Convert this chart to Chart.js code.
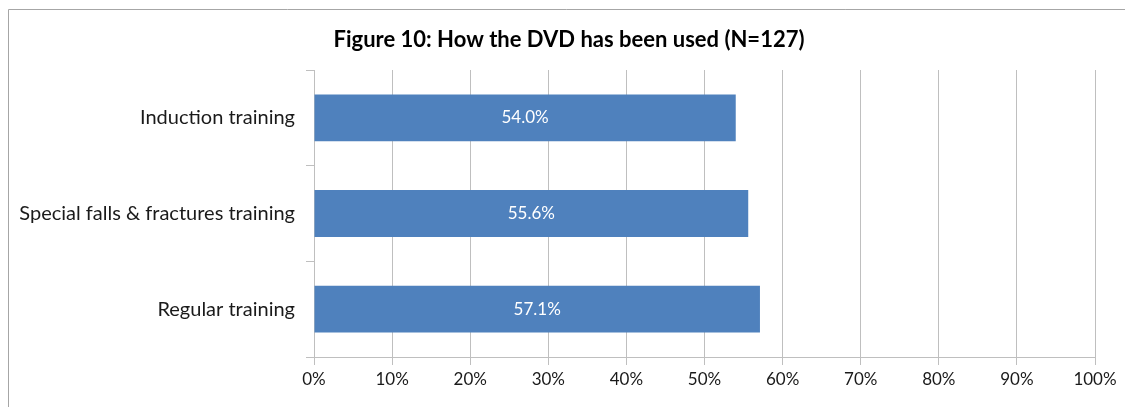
<!DOCTYPE html>
<html>
<head>
<meta charset="utf-8">
<script src="https://cdn.jsdelivr.net/npm/chart.js@4"></script>
<style>
  body { margin: 0; background: #fff; }
  #wrap { width: 1125px; height: 407px; }
</style>
</head>
<body>
<div id="wrap"><canvas id="chart" width="1125" height="407"></canvas></div>
<script>
const categories = ['Induction training', 'Special falls & fractures training', 'Regular training'];
const usedPct = [54.0, 55.6, 57.1];
const xTicks = [0, 10, 20, 30, 40, 50, 60, 70, 80, 90, 100];
const titleText = 'Figure 10: How the DVD has been used (N=127)';

// frame around the whole chart (left and top edges visible) + title
const framePlugin = {
  id: 'frame',
  beforeDraw(chart) {
    const ctx = chart.ctx;
    ctx.save();
    ctx.strokeStyle = '#a6a6a6';
    ctx.lineWidth = 1;
    ctx.beginPath();
    ctx.moveTo(8.5, 407);
    ctx.lineTo(8.5, 9.5);
    ctx.lineTo(1125, 9.5);
    ctx.stroke();
    ctx.fillStyle = '#000';
    ctx.font = 'bold 22px Lato, "Open Sans", sans-serif';
    ctx.textAlign = 'center';
    ctx.textBaseline = 'middle';
    ctx.fillText(titleText, 569, 40);
    ctx.restore();
  }
};

// value labels in the middle of each bar
const barLabels = {
  id: 'barLabels',
  afterDatasetsDraw(chart) {
    const ctx = chart.ctx;
    const meta = chart.getDatasetMeta(0);
    ctx.save();
    ctx.fillStyle = '#ffffff';
    ctx.font = '17px Lato, "Open Sans", sans-serif';
    ctx.textAlign = 'center';
    ctx.textBaseline = 'middle';
    meta.data.forEach((bar, i) => {
      const cx = (bar.x + bar.base) / 2;
      ctx.fillText(usedPct[i].toFixed(1) + '%', cx, bar.y);
    });
    ctx.restore();
  }
};

const chart = new Chart(document.getElementById('chart'), {
  type: 'bar',
  data: {
    labels: categories,
    datasets: [{
      data: usedPct,
      backgroundColor: '#4f81bd',
      barPercentage: 0.49,
      categoryPercentage: 1.0
    }]
  },
  options: {
    indexAxis: 'y',
    responsive: false,
    animation: false,
    layout: { padding: { left: 0, right: 30, top: 70, bottom: 0 } },
    plugins: {
      legend: { display: false },
      tooltip: { enabled: false },
      title: { display: false }
    },
    scales: {
      x: {
        min: 0,
        max: 100,
        afterBuildTicks(scale) {
          scale.ticks = xTicks.map(v => ({ value: v }));
        },
        afterFit(scale) { scale.height = 50; },
        grid: { color: '#bfbfbf', tickLength: 8, lineWidth: 1 },
        border: { color: '#bfbfbf' },
        ticks: {
          color: '#1a1a1a',
          font: { family: 'Lato, "Open Sans", sans-serif', size: 17 },
          padding: 4,
          callback: v => v + '%'
        }
      },
      y: {
        afterFit(scale) { scale.width = 314; },
        grid: { drawOnChartArea: false, color: '#bfbfbf', tickLength: 8, offset: true },
        border: { color: '#bfbfbf' },
        ticks: {
          color: '#1a1a1a',
          font: { family: 'Lato, "Open Sans", sans-serif', size: 20 },
          padding: 11
        }
      }
    }
  },
  plugins: [framePlugin, barLabels]
});
</script>
</body>
</html>
